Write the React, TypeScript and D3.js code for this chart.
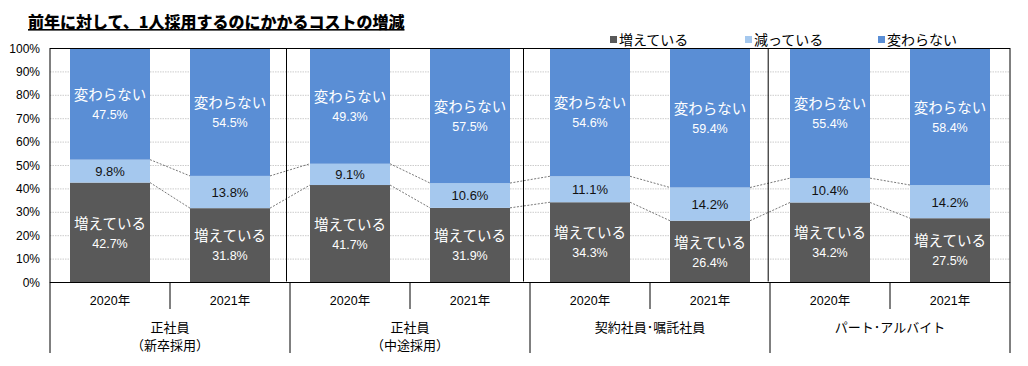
import React from "react";
import * as d3 from "d3";

const title = "前年に対して、1人採用するのにかかるコストの増減";
const groups = [["正社員", "（新卒採用）"], ["正社員", "（中途採用）"], ["契約社員･嘱託社員"], ["パート･アルバイト"]];
const years = ["2020年", "2021年"];
const seriesNames = ["増えている", "減っている", "変わらない"];
const increased = [42.7, 31.8, 41.7, 31.9, 34.3, 26.4, 34.2, 27.5];
const decreased = [9.8, 13.8, 9.1, 10.6, 11.1, 14.2, 10.4, 14.2];
const unchanged = [47.5, 54.5, 49.3, 57.5, 54.6, 59.4, 55.4, 58.4];
const yTicks = [0, 10, 20, 30, 40, 50, 60, 70, 80, 90, 100];
const colors = ["#595959", "#A5C8EE", "#5A8ED5"];
const labelColors = ["#ffffff", "#111111", "#ffffff"];
// hand-drawn separators in plot are slightly left of the group boundaries
const sepOffsets = [-3.5, -6.5, -1.8];

const W = 1028, H = 366;
const L = 50, R = 1010, T = 48.5, B = 282.5;
const FONT = "'Liberation Sans', Arial, 'Noto Sans CJK JP', sans-serif";
const JP = "'Noto Sans CJK JP', sans-serif";

export default function App() {
  const rows = increased.map((v, i) => ({
    key: String(i),
    s0: v,
    s1: decreased[i],
    s2: unchanged[i],
  }));
  const stack = d3.stack<any>().keys(["s0", "s1", "s2"]).offset(d3.stackOffsetExpand);
  const stacked = stack(rows);
  const raw = [increased, decreased, unchanged];

  const x = d3.scaleBand<string>()
    .domain(rows.map((r) => r.key))
    .range([L, R])
    .paddingInner(1 / 3)
    .paddingOuter(1 / 6);
  const y = d3.scaleLinear().domain([0, 1]).range([B, T]);
  const step = x.step();
  const bw = x.bandwidth();
  const groupW = step * years.length;

  const connectors: React.ReactNode[] = [];
  for (let s = 0; s < 2; s++) {
    for (let i = 0; i < rows.length - 1; i++) {
      const x1 = (x(String(i)) as number) + bw;
      const x2 = x(String(i + 1)) as number;
      connectors.push(
        <line key={`c${s}-${i}`} x1={x1} x2={x2} y1={y(stacked[s][i][1])} y2={y(stacked[s][i + 1][1])}
          stroke="#555" strokeWidth={0.8} strokeDasharray="2,1.5" />
      );
    }
  }

  const legendX = [610, 745, 878];

  return (
    <svg width={W} height={H} style={{ position: "absolute", left: 0, top: 0, background: "#fff" }} fontFamily={FONT}>
      <rect x={0} y={0} width={W} height={H} fill="#fff" />
      <text x={28} y={28} fontSize={16} fontWeight={900} textDecoration="underline" fill="#000"
        fontFamily={JP}>{title}</text>

      {seriesNames.map((n, i) => (
        <g key={n}>
          <rect x={legendX[i]} y={36} width={7} height={7} fill={colors[i]} />
          <text x={legendX[i] + 9} y={45} fontSize={14} fill="#000" fontFamily={JP}>{n}</text>
        </g>
      ))}

      {yTicks.map((t) => (
        <g key={t}>
          <line x1={L} x2={R} y1={y(t / 100)} y2={y(t / 100)} stroke="#cccccc" strokeWidth={1} strokeDasharray="1.5,1" />
          <text x={40} y={y(t / 100) + 4} fontSize={12} textAnchor="end" fill="#000">{t}%</text>
        </g>
      ))}

      {stacked.map((layer, s) => (
        <g key={s}>
          {layer.map((d, i) => (
            <rect key={i} x={x(String(i))} width={bw} y={y(d[1])} height={y(d[0]) - y(d[1])} fill={colors[s]} />
          ))}
        </g>
      ))}

      {connectors}

      {stacked.map((layer, s) =>
        layer.map((d, i) => {
          const cx = (x(String(i)) as number) + bw / 2;
          const cy = (y(d[0]) + y(d[1])) / 2;
          const val = raw[s][i].toFixed(1) + "%";
          if (s === 1) {
            return (
              <text key={`l${s}-${i}`} x={cx} y={cy + 5} fontSize={13} textAnchor="middle" fill={labelColors[s]}>{val}</text>
            );
          }
          return (
            <g key={`l${s}-${i}`}>
              <text x={cx} y={cy - 4} fontSize={14.5} textAnchor="middle" fill={labelColors[s]}
                fontFamily={JP}>{seriesNames[s]}</text>
              <text x={cx} y={cy + 15} fontSize={12.5} textAnchor="middle" fill={labelColors[s]}>{val}</text>
            </g>
          );
        })
      )}

      {/* plot border */}
      <rect x={L} y={T} width={R - L} height={B - T} fill="none" stroke="#000" strokeWidth={1} />
      {sepOffsets.map((o, g) => {
        const gx = L + groupW * (g + 1) + o;
        return <line key={`sep${g}`} x1={gx} x2={gx} y1={T} y2={B - 1} stroke="#000" strokeWidth={1} />;
      })}

      {/* category axis */}
      {groups.map((g, gi) => {
        const gx = L + groupW * gi;
        return (
          <g key={`g${gi}`}>
            <line x1={gx} x2={gx} y1={B} y2={353} stroke="#000" strokeWidth={1} />
            <line x1={gx + step} x2={gx + step} y1={B} y2={309} stroke="#000" strokeWidth={1} />
            {years.map((yr, yi) => (
              <text key={yr} x={gx + step * yi + step / 2} y={305} fontSize={12.5} textAnchor="middle" fill="#000">{yr}</text>
            ))}
            {g.map((line, li) => (
              <text key={li} x={gx + groupW / 2} y={331.5 + li * 18.5} fontSize={13} textAnchor="middle" fill="#000"
                fontFamily={JP}>{line}</text>
            ))}
          </g>
        );
      })}
      <line x1={R} x2={R} y1={B} y2={353} stroke="#000" strokeWidth={1} />
    </svg>
  );
}
